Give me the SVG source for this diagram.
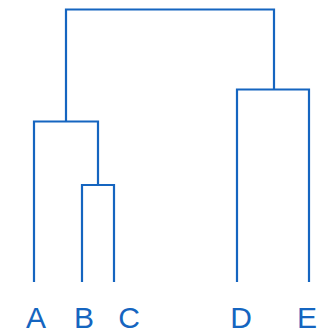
<svg xmlns="http://www.w3.org/2000/svg" width="321" height="331" viewBox="0 0 321 331">
<style>
.link{fill:none;stroke:#1565c0;stroke-width:2.2;stroke-linejoin:miter;stroke-linecap:butt}
.lbl{font-family:"Liberation Sans",Arial,sans-serif;font-size:30px;fill:#1565c0;text-anchor:middle}
</style>
<rect width="321" height="331" fill="#ffffff"/>
<g id="connectors">
<path class="link" d="M82,282 V185 H114 V282"/>
<path class="link" d="M34,282 V121.5 H98 V185"/>
<path class="link" d="M237,282 V89.5 H309 V282"/>
<path class="link" d="M66,121.5 V9.5 H274 V89.5"/>
</g>
<g id="A"><text class="lbl" x="36" y="328">A</text></g>
<g id="B"><text class="lbl" x="84" y="328">B</text></g>
<g id="C"><text class="lbl" x="129" y="328">C</text></g>
<g id="D"><text class="lbl" x="241" y="328">D</text></g>
<g id="E"><text class="lbl" x="307" y="328">E</text></g>
</svg>
